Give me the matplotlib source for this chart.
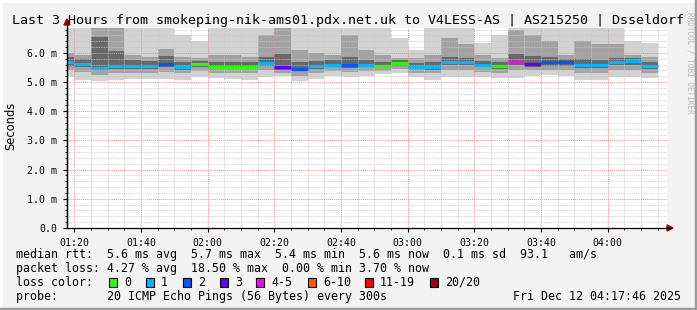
import matplotlib.pyplot as plt
from matplotlib.lines import Line2D
from matplotlib.patches import Polygon, Rectangle
import numpy as np

# 5 minute steps, minutes after 01:00 at the start of each step
starts = [15 + 5 * i for i in range(36)]

# median rtt (ms) per step
med = [5.68, 5.63, 5.49, 5.56, 5.56, 5.56, 5.61, 5.53, 5.61, 5.53, 5.53, 5.53,
       5.67, 5.53, 5.46, 5.56, 5.60, 5.60, 5.60, 5.56, 5.65, 5.53, 5.53, 5.68,
       5.68, 5.60, 5.56, 5.70, 5.63, 5.68, 5.68, 5.60, 5.60, 5.68, 5.71, 5.56]
# lost pings per step
loss = [1, 1, 1, 1, 1, 1, 2, 1, 0, 0, 0, 0, 1, 3, 2, 1, 1, 2, 1, 0, 0, 1, 1, 1,
        1, 1, 0, 4, 3, 2, 2, 1, 1, 1, 1, 1]
# smoke: spread of the pings (ms)
lo = [5.19, 5.07, 5.02, 5.07, 5.11, 5.11, 5.11, 5.07, 5.17, 5.13, 5.11, 5.07,
      5.17, 5.21, 5.05, 5.11, 5.21, 5.17, 5.21, 5.28, 5.32, 5.18, 5.07, 5.19,
      5.19, 5.17, 5.13, 5.13, 5.21, 5.25, 5.21, 5.07, 5.07, 5.19, 5.19, 5.13]
p20 = [5.40, 5.35, 5.25, 5.30, 5.32, 5.32, 5.35, 5.30, 5.38, 5.30, 5.30, 5.30,
       5.42, 5.32, 5.22, 5.32, 5.38, 5.35, 5.38, 5.38, 5.45, 5.32, 5.30, 5.40,
       5.40, 5.36, 5.32, 5.40, 5.40, 5.42, 5.40, 5.32, 5.32, 5.42, 5.42, 5.32]
p40 = [5.55, 5.52, 5.40, 5.46, 5.46, 5.45, 5.50, 5.43, 5.52, 5.44, 5.44, 5.44,
       5.56, 5.42, 5.37, 5.46, 5.50, 5.49, 5.50, 5.47, 5.55, 5.44, 5.43, 5.57,
       5.57, 5.50, 5.46, 5.58, 5.52, 5.56, 5.56, 5.49, 5.49, 5.57, 5.60, 5.46]
p60 = [5.85, 5.80, 6.55, 6.05, 5.75, 5.72, 5.90, 5.70, 5.72, 5.68, 5.68, 5.68,
       5.85, 5.95, 5.70, 5.72, 5.75, 5.85, 5.75, 5.70, 5.76, 5.66, 5.68, 5.85,
       5.82, 5.72, 5.68, 5.95, 5.90, 5.85, 5.80, 5.78, 5.75, 5.82, 5.82, 5.70]
p80 = [6.00, 5.93, 7.20, 7.00, 5.93, 5.86, 6.15, 5.86, 5.83, 5.93, 5.93, 5.86,
       6.60, 6.90, 6.10, 6.00, 5.93, 6.60, 6.10, 5.93, 5.83, 5.83, 5.93, 6.50,
       6.30, 5.93, 5.83, 6.80, 6.60, 6.40, 5.93, 6.40, 6.30, 6.30, 5.93, 5.86]
hi = [7.5, 7.5, 7.5, 7.5, 7.5, 7.5, 7.5, 6.62, 6.42, 7.5, 7.5, 7.5,
      7.5, 7.5, 7.5, 7.5, 7.5, 7.5, 7.5, 7.5, 6.52, 6.10, 7.5, 7.5,
      7.5, 6.33, 6.62, 7.5, 7.5, 7.5, 7.5, 7.5, 7.5, 7.5, 6.42, 6.33]

loss_labels = ['0', '1', '2', '3', '4-5', '6-10', '11-19', '20/20']
loss_colors = ['#26ff00', '#00b8ff', '#0059ff', '#5e00ff', '#ff00ff',
               '#ff5500', '#ff0000', '#a00000']
xtick_pos = [20, 40, 60, 80, 100, 120, 140, 160, 180]
xtick_lab = ['01:20', '01:40', '02:00', '02:20', '02:40', '03:00', '03:20',
             '03:40', '04:00']


def loss_color(n):
    if n <= 3:
        return loss_colors[n]
    if n <= 5:
        return loss_colors[4]
    if n <= 10:
        return loss_colors[5]
    if n <= 19:
        return loss_colors[6]
    return loss_colors[7]


W, H = 697, 310
mono = 'DejaVu Sans Mono'
fig = plt.figure(figsize=(W / 100, H / 100), dpi=100, facecolor='#f3f3f3')
ax = fig.add_axes([67 / W, (H - 228) / H, 600 / W, (228 - 27.5) / H])
ax.set_facecolor('white')

lo_a, hi_a = np.array(lo), np.array(hi)
ax.bar(starts, hi_a - lo_a, bottom=lo_a, width=5, align='edge',
       color='#d2d2d2', linewidth=0, zorder=1)
ax.bar(starts, np.array(p80) - np.array(p20), bottom=p20, width=5,
       align='edge', color='#a2a2a2', linewidth=0, zorder=1)
ax.bar(starts, np.array(p60) - np.array(p40), bottom=p40, width=5,
       align='edge', color='#686868', linewidth=0, zorder=1)

ends = [s + 5 for s in starts]
ax.hlines(med, starts, ends, colors=[loss_color(n) for n in loss],
          lw=2.3, zorder=5)

ax.set_xlim(17.77, 197.77)
ax.set_ylim(0, 6.87)
ax.set_xticks(xtick_pos)
ax.set_xticklabels(xtick_lab, family=mono, fontsize=7.1)
ax.set_xticks(np.arange(20, 198, 5), minor=True)
ax.set_yticks(range(7))
ax.set_yticklabels(['0.0'] + ['%d.0 m' % v for v in range(1, 7)],
                   family=mono, fontsize=7.1)
ax.set_yticks(np.arange(0, 6.9, 0.2), minor=True)
ax.tick_params(which='major', length=3, width=0.8, pad=4)
ax.tick_params(which='minor', length=1.5, width=0.6)
ax.grid(which='minor', color='#c8c8c8', ls=(0, (1, 1)), lw=0.6, zorder=2)
ax.grid(which='major', color='#f09090', ls=(0, (1, 1)), lw=0.7, zorder=2)
ax.set_axisbelow(False)
for s in ['top', 'right']:
    ax.spines[s].set_visible(False)
ax.spines['left'].set_linewidth(0.9)
ax.spines['bottom'].set_linewidth(0.9)

# axis arrows
fig.add_artist(Line2D([67 / W, 67 / W], [(H - 228) / H, (H - 23) / H],
                      color='black', lw=0.9))
fig.add_artist(Line2D([667 / W, 671 / W], [(H - 228) / H, (H - 228) / H],
                      color='black', lw=0.9))
fig.add_artist(Polygon([[67 / W, (H - 19) / H], [64 / W, (H - 25) / H],
                        [70 / W, (H - 25) / H]], color='#a00000'))
fig.add_artist(Polygon([[673 / W, (H - 228) / H], [667 / W, (H - 225) / H],
                        [667 / W, (H - 231) / H]], color='#a00000'))

fig.text(348.5 / W, 1 - 24 / H,
         'Last 3 Hours from smokeping-nik-ams01.pdx.net.uk to V4LESS-AS | AS215250 | Dsseldorf',
         ha='center', va='baseline', family=mono, fontsize=9.6)
fig.text(11 / W, 1 - 126 / H, 'Seconds', rotation=90, ha='center',
         va='center', fontsize=8.3)
fig.text(690 / W, 1 - 12 / H, 'RRDTOOL / TOBI OETIKER', rotation=270,
         ha='center', va='top', family=mono, fontsize=5.5, color='#b8b8b8')

fs = 8.4
fig.text(16 / W, 1 - 257.7 / H,
         'median rtt:  5.6 ms avg  5.7 ms max  5.4 ms min  5.6 ms now  0.1 ms sd  93.1   am/s',
         va='baseline', family=mono, fontsize=fs)
fig.text(16 / W, 1 - 271.7 / H,
         'packet loss: 4.27 % avg  18.50 % max  0.00 % min 3.70 % now',
         va='baseline', family=mono, fontsize=fs)
fig.text(16 / W, 1 - 285.7 / H, 'loss color:', va='baseline', family=mono,
         fontsize=fs)
box_x = [109, 146, 183, 220, 256, 308, 365, 430]
for bx, lab, c in zip(box_x, loss_labels, loss_colors):
    fig.add_artist(Rectangle((bx / W, 1 - 286.5 / H), 8 / W, 8.5 / H,
                             facecolor=c, edgecolor='black', lw=0.8))
    fig.text((bx + 15) / W, 1 - 285.7 / H, lab, va='baseline', family=mono,
             fontsize=fs)
fig.text(16 / W, 1 - 300 / H,
         'probe:       20 ICMP Echo Pings (56 Bytes) every 300s',
         va='baseline', family=mono, fontsize=fs)
fig.text(681 / W, 1 - 300 / H, 'Fri Dec 12 04:17:46 2025', ha='right',
         va='baseline', family=mono, fontsize=fs)

# 3d border of the canvas
fig.add_artist(Line2D([0, 1], [1 - 0.5 / H, 1 - 0.5 / H], color='#fcfcfc', lw=2))
fig.add_artist(Line2D([0.5 / W, 0.5 / W], [0, 1], color='#fcfcfc', lw=2))
fig.add_artist(Line2D([0, 1], [1.5 / H, 1.5 / H], color='#9c9c9c', lw=2.5))
fig.add_artist(Line2D([1 - 1.5 / W, 1 - 1.5 / W], [0, 1], color='#9c9c9c', lw=2.5))

fig.savefig('out.png', dpi=100, facecolor=fig.get_facecolor())
